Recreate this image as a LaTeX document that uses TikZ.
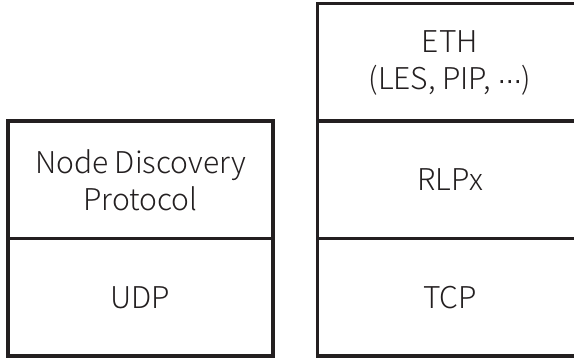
\documentclass[tikz,border=0pt]{standalone}
\usepackage{fontspec}
\setmainfont{Noto Sans CJK SC}[UprightFont=* Light]
\newfontfamily\symfont{DejaVu Sans}
\usetikzlibrary{positioning}
\definecolor{ink}{HTML}{231F20}

\begin{document}
\begin{tikzpicture}[
  x=1pt, y=1pt,
  layer/.style={rectangle, draw=ink, text=ink, line width=3.5pt, minimum width=265pt,
    minimum height=117.5pt, inner sep=0pt, outer sep=0pt, align=center,
    font=\fontsize{30}{37}\selectfont},
  node distance=0pt
]
  \clip (0,0) rectangle (574,359);
  % left stack
  \node[layer] (udp) at (140.5, 61.5) {UDP};
  \node[layer, above=of udp] (disc) {Node Discovery\\Protocol};
  % right stack
  \node[layer] (tcp) at (450, 61.5) {TCP};
  \node[layer, above=of tcp] (rlpx) {RLPx};
  \node[layer, above=of rlpx] (eth) {ETH\\(LES, PIP, {\symfont\fontsize{24}{37}\selectfont ⋯})};
\end{tikzpicture}
\end{document}
